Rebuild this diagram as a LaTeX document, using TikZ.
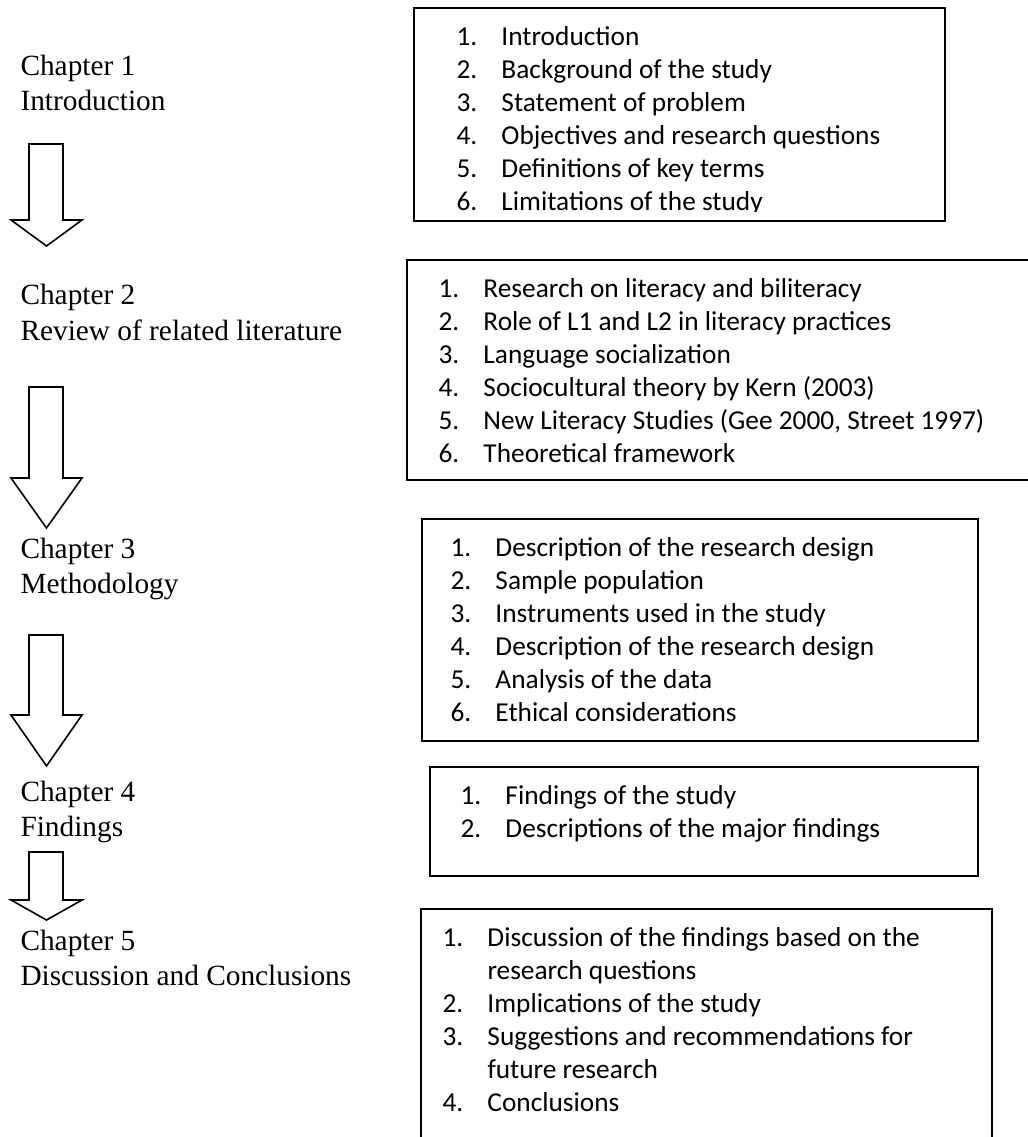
\documentclass[tikz,border=0pt]{standalone}
\usepackage{fontspec}
\setmainfont{Liberation Serif}
\newfontfamily\listfont{Carlito}
\usetikzlibrary{positioning}

\tikzset{every picture/.style={line width=0.75pt}}
\tikzset{
	chaplabel/.style={anchor=base west, inner sep=0pt, font=\fontsize{22}{26}\selectfont},
	listbox/.style={draw, line width=1.2pt},
	listitem/.style={anchor=base west, inner sep=0pt, font=\listfont\fontsize{20.5}{24}\selectfont},
	blockarrow/.style={draw, line width=1.2pt, fill=white, line join=miter}
}
\newcommand{\itm}[2]{\makebox[33.75pt][l]{#1.}#2}

\begin{document}
\begin{tikzpicture}[x=0.75pt,y=0.75pt,yscale=-1,xscale=1]
	\useasboundingbox (0,0) rectangle (1027,1137);

	% chapter labels
	\node [chaplabel] (ch1) at (20,76) {Chapter 1};
	\node [chaplabel] (ch1t) at (20,111) {Introduction};
	\node [chaplabel] (ch2) at (20,305) {Chapter 2};
	\node [chaplabel] (ch2t) at (20,340) {Review of related literature};
	\node [chaplabel] (ch3) at (20,558) {Chapter 3};
	\node [chaplabel] (ch3t) at (20,593) {Methodology};
	\node [chaplabel] (ch4) at (20,801) {Chapter 4};
	\node [chaplabel] (ch4t) at (20,836) {Findings};
	\node [chaplabel] (ch5) at (20,950) {Chapter 5};
	\node [chaplabel] (ch5t) at (20,985) {Discussion and Conclusions};

	% block arrows
	\draw [blockarrow] (29,144) -- (63,144) -- (63,220) -- (82,220) -- (46.5,246) -- (11,220) -- (29,220) -- cycle;
	\draw [blockarrow] (29,387) -- (63,387) -- (63,478) -- (82,478) -- (46.5,528) -- (11,478) -- (29,478) -- cycle;
	\draw [blockarrow] (29,635) -- (63,635) -- (63,715) -- (82,715) -- (46.5,766) -- (11,715) -- (29,715) -- cycle;
	\draw [blockarrow] (29,852) -- (63,852) -- (63,900) -- (82,900) -- (46.5,920) -- (11,900) -- (29,900) -- cycle;

	% box 1 (last line clipped by the box)
	\draw [listbox] (414,8) rectangle (945,221);
	\begin{scope}
		\clip (414,8) rectangle (945,211.5);
		\foreach \y/\n/\t in {46/1/Introduction, 79/2/Background of the study, 112/3/Statement of problem, 145/4/Objectives and research questions, 178/5/Definitions of key terms, 211/6/Limitations of the study}
			\node [listitem] (a\n) at (456,\y) {\itm{\n}{\t}};
	\end{scope}

	% box 2 (runs off the right edge)
	\draw [listbox] (1030,260) -- (407,260) -- (407,480) -- (1030,480);
	\foreach \y/\n/\t in {297/1/Research on literacy and biliteracy, 330/2/Role of L1 and L2 in literacy practices, 363/3/Language socialization, 396/4/Sociocultural theory by Kern (2003), 429/5/{New Literacy Studies (Gee 2000, Street 1997)}, 462/6/Theoretical framework}
		\node [listitem] (b\n) at (438,\y) {\itm{\n}{\t}};

	% box 3
	\draw [listbox] (422,519) rectangle (978,741);
	\foreach \y/\n/\t in {556/1/Description of the research design, 589/2/Sample population, 622/3/Instruments used in the study, 655/4/Description of the research design, 688/5/Analysis of the data, 721/6/Ethical considerations}
		\node [listitem] (c\n) at (450,\y) {\itm{\n}{\t}};

	% box 4
	\draw [listbox] (430,767) rectangle (978,876);
	\foreach \y/\n/\t in {804/1/Findings of the study, 837/2/Descriptions of the major findings}
		\node [listitem] (d\n) at (460,\y) {\itm{\n}{\t}};

	% box 5 (open at the bottom)
	\draw [listbox] (421,1140) -- (421,909) -- (992,909) -- (992,1140);
	\node [listitem] (e1) at (442,946) {\itm{1}{Discussion of the findings based on the}};
	\node [listitem] (e1b) at (487,979) {research questions};
	\node [listitem] (e2) at (442,1012) {\itm{2}{Implications of the study}};
	\node [listitem] (e3) at (442,1045) {\itm{3}{Suggestions and recommendations for}};
	\node [listitem] (e3b) at (487,1078) {future research};
	\node [listitem] (e4) at (442,1111) {\itm{4}{Conclusions}};

\end{tikzpicture}
\end{document}
